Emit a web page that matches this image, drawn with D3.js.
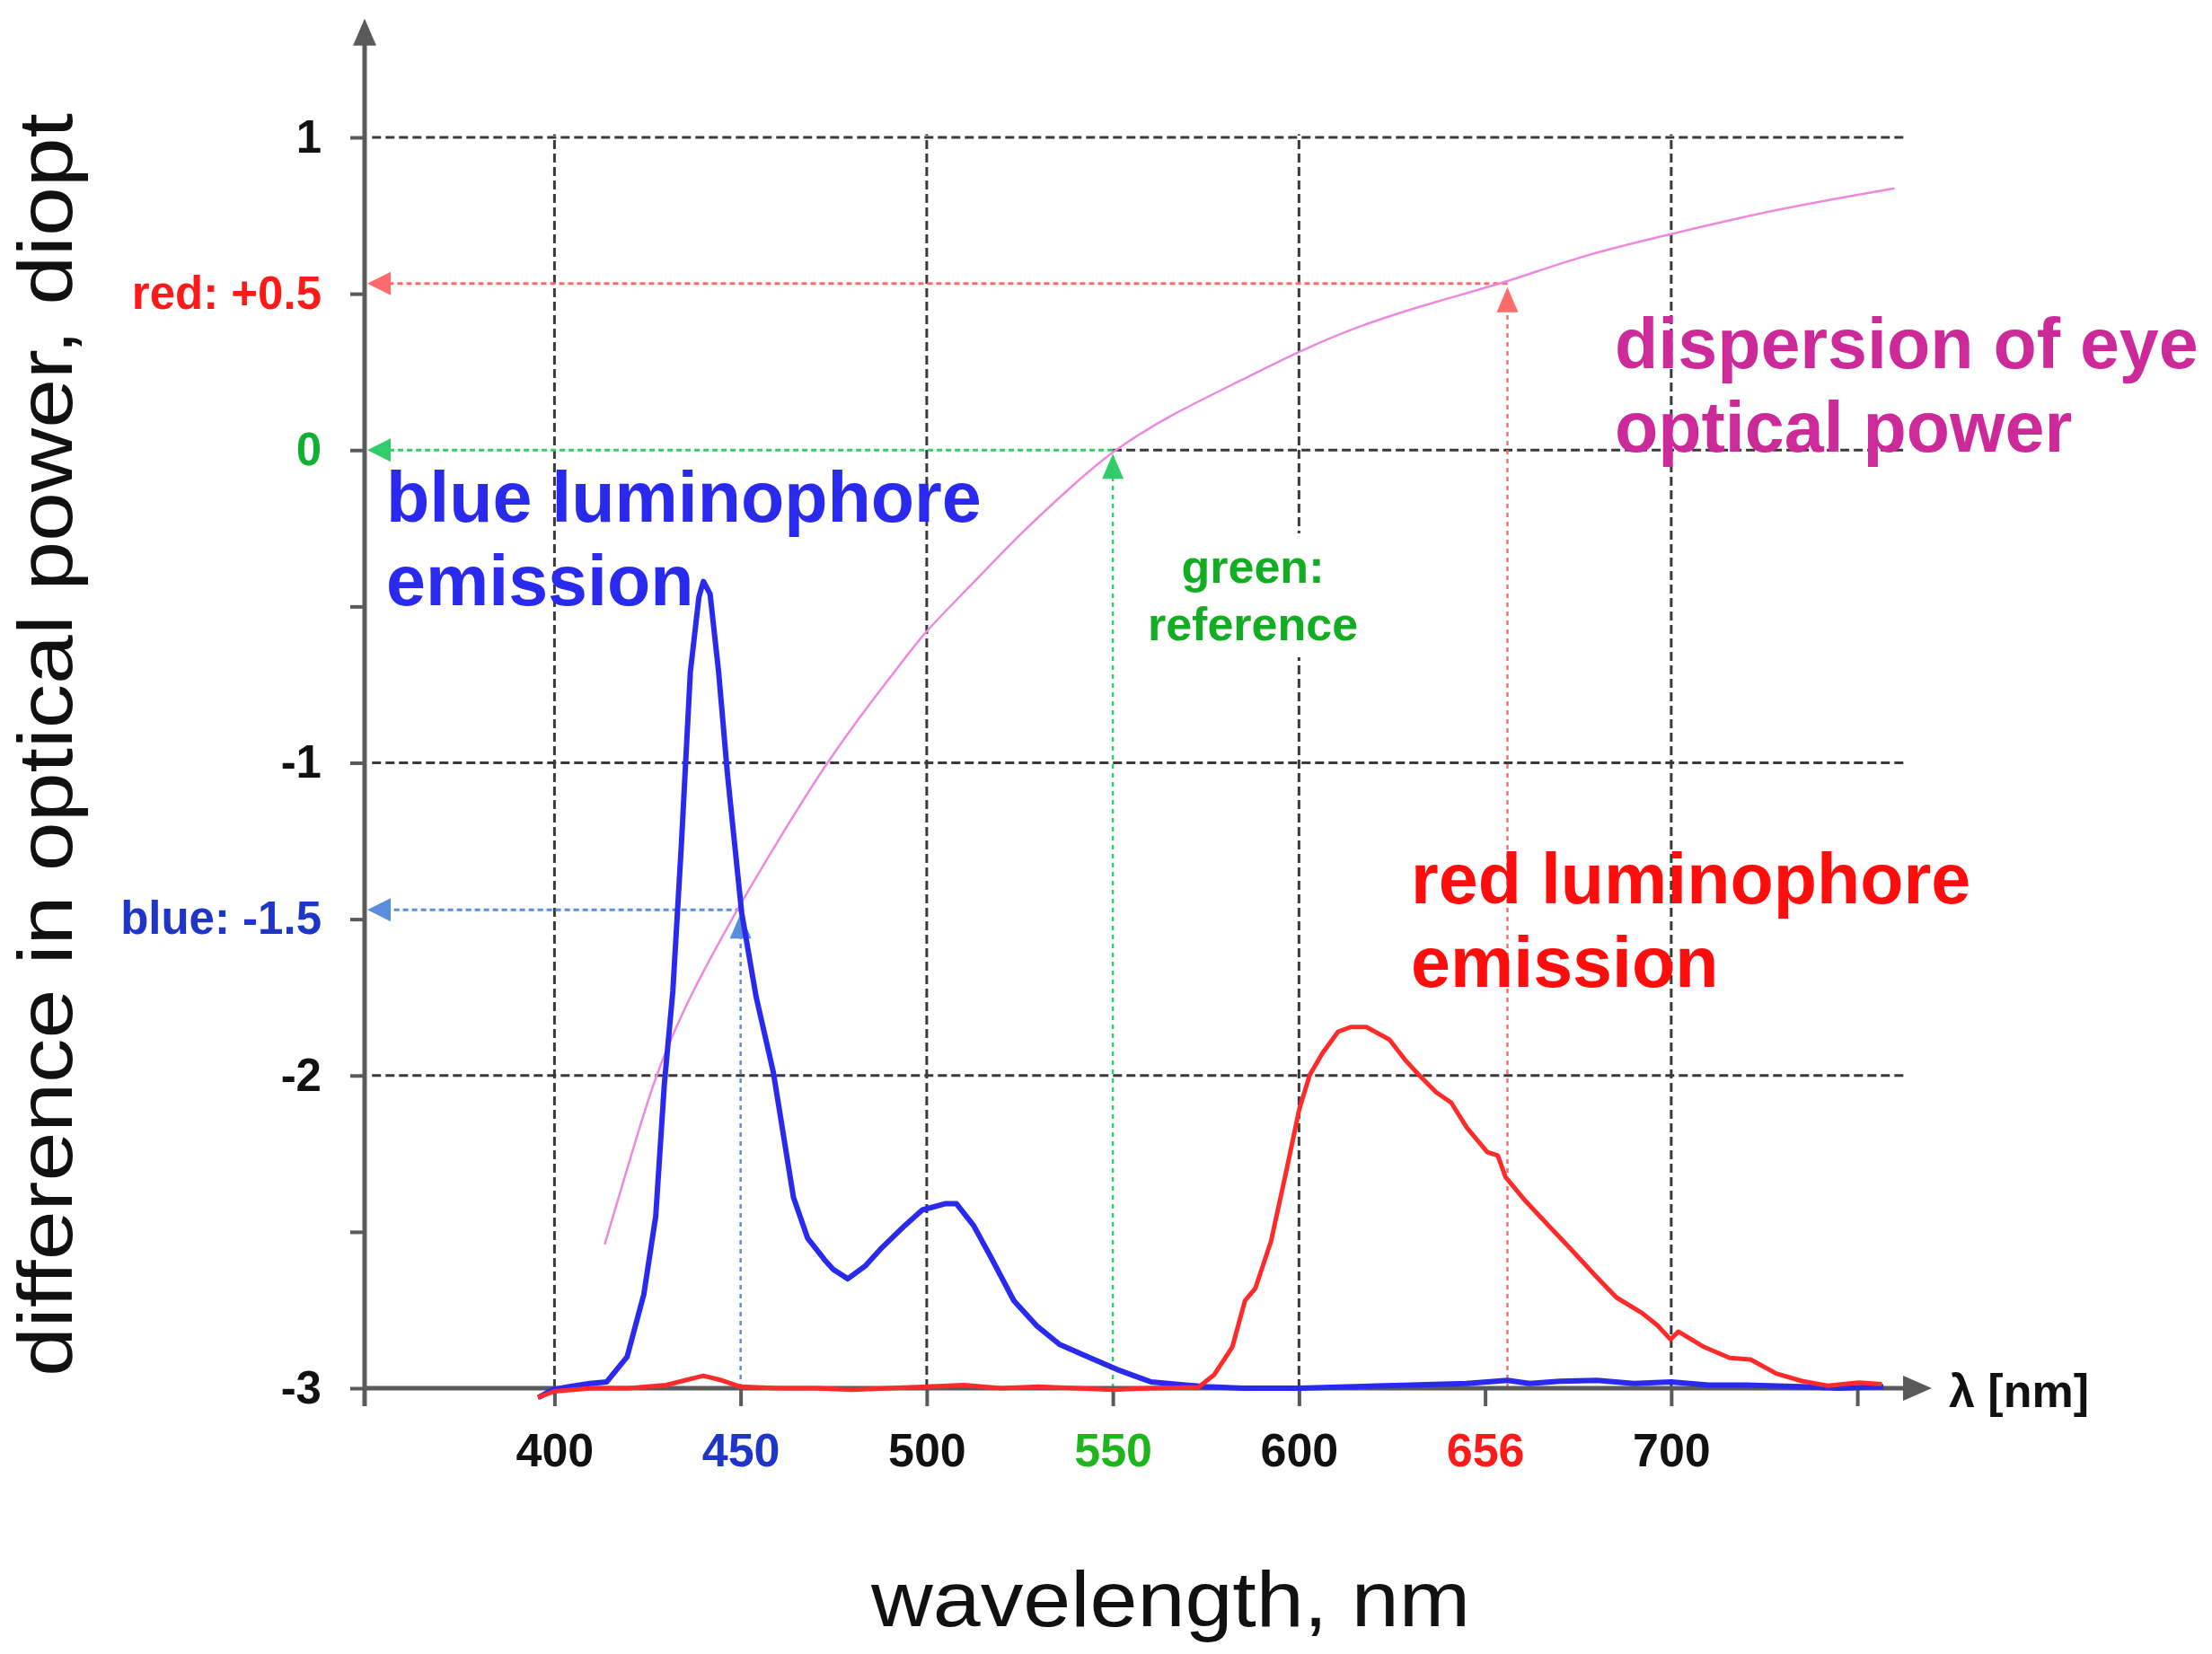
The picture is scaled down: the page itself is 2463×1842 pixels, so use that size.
<!DOCTYPE html>
<html>
<head>
<meta charset="utf-8">
<script src="https://cdn.jsdelivr.net/npm/d3@7"></script>
<style>
  body { margin: 0; background: #fff; }
</style>
</head>
<body>
<script>
// chart values
const xTicks = [400, 450, 500, 550, 600, 650, 700, 750];
const xTickLabels = ["400", "450", "500", "550", "600", "656", "700", ""];
const yTicks = [1, 0.5, 0, -0.5, -1, -1.5, -2, -2.5, -3];
const yTickLabels = ["1", "red: +0.5", "0", "", "-1", "blue: -1.5", "-2", "", "-3"];
const gridX = [400, 500, 600, 700];
const gridY = [1, 0, -1, -2];

// dispersion of eye optical power (diopt, relative to 550 nm)
const dispWl = [413.5, 420, 427, 435, 443, 450, 460, 473, 486, 492, 499, 511, 525, 539, 550, 566, 585, 600, 617, 637, 656, 676, 700, 727, 760];
const dispVal = [-2.54, -2.28, -2.0, -1.78, -1.6, -1.45, -1.25, -1.0, -0.79, -0.70, -0.587, -0.444, -0.268, -0.115, 0, 0.116, 0.226, 0.316, 0.402, 0.476, 0.537, 0.623, 0.691, 0.768, 0.837];

// blue luminophore emission (drawn in the same y units)
const blueWl = [
  395.7, 399.5, 404, 409.5, 414, 419.5, 424, 427.2, 429.5, 431.8,
  434.1, 436.5, 438.8, 440, 441.8, 444.1, 446.5, 450.3, 454.2, 458.8,
  464.2, 468, 472.6, 474.9, 478.8, 483.4, 488, 494.1, 498.8, 504.9,
  508, 512.6, 517.2, 523.4, 529.5, 535.7, 543.4, 551.1, 560.3, 569.5,
  575, 585, 600, 615, 630, 645, 656, 662, 670, 680,
  690, 700, 710, 720, 735, 745, 757];
const blueVal = [
  -3.03, -3.005, -2.995, -2.985, -2.98, -2.9, -2.7, -2.45, -2.03, -1.73,
  -1.26, -0.71, -0.47, -0.42, -0.46, -0.71, -1.04, -1.48, -1.75, -1.99,
  -2.39, -2.52, -2.59, -2.62, -2.65, -2.61, -2.55, -2.48, -2.43, -2.41,
  -2.41, -2.48, -2.58, -2.72, -2.8, -2.86, -2.9, -2.94, -2.98, -2.99,
  -2.995, -3.0, -3.0, -2.995, -2.99, -2.985, -2.975, -2.985, -2.978, -2.975,
  -2.985, -2.98, -2.99, -2.99, -2.995, -3.0, -2.995];

// red luminophore emission
const redWl = [
  395.5, 400, 410, 420, 430, 435, 440, 445, 450, 460,
  470, 480, 490, 500, 510, 520, 530, 540, 550, 560,
  573, 577.2, 582.1, 585.5, 588.3, 592.5, 596.6, 600.1, 602.9, 606.3,
  610.5, 613.9, 618.1, 624.3, 628.5, 632.6, 636.8, 640.9, 645.1, 650.6,
  653.4, 655.5, 660.3, 667.3, 672.8, 679.7, 685.3, 692.2, 696.3, 699.8,
  701.9, 708.8, 715.7, 721.3, 728.2, 735.1, 742.1, 750.3, 756.6];
const redVal = [
  -3.03, -3.01, -3.0, -3.0, -2.99, -2.975, -2.96, -2.975, -2.995, -3.0,
  -3.0, -3.005, -3.0, -2.995, -2.99, -3.0, -2.995, -3.0, -3.005, -3.0,
  -2.997, -2.957, -2.868, -2.72, -2.68, -2.53, -2.305, -2.107, -1.998, -1.929,
  -1.86, -1.845, -1.845, -1.885, -1.95, -2.003, -2.053, -2.087, -2.167, -2.245,
  -2.256, -2.325, -2.394, -2.483, -2.552, -2.641, -2.71, -2.76, -2.799, -2.844,
  -2.819, -2.868, -2.903, -2.908, -2.953, -2.977, -2.992, -2.982, -2.987];

// read-off markers: blue, green (reference), red
const markerWl = [450, 550, 656];
const markerVal = [-1.47, 0, 0.533];

const WIDTH = 2463;
const HEIGHT = 1842;
const FONT = "'Liberation Sans', Arial, Helvetica, sans-serif";

const svg = d3.select("body").append("svg")
    .attr("width", WIDTH)
    .attr("height", HEIGHT)
    .style("font-family", FONT);

svg.append("rect").attr("width", WIDTH).attr("height", HEIGHT).attr("fill", "#fff");

const x = d3.scaleLinear().domain([349, 770]).range([406, 2151]);
const y = d3.scaleLinear().domain([-3, 1]).range([1546, 153]);
const X0 = x(349);
const Y0 = y(-3);

const tickColor = {450: "#1f35c8", 550: "#1fb51f", 650: "#ff1a1a"};
const yLabelColor = {0.5: "#ff1a1a", 0: "#10b030", "-1.5": "#1f35c8"};
const markerColors = ["#5a8ddb", "#33cc6a", "#ff6a6a"];

// gridlines
const grid = svg.append("g")
    .attr("stroke", "#3a3a3a")
    .attr("stroke-width", 3)
    .attr("stroke-dasharray", "10,5")
    .attr("fill", "none");

gridY.forEach(v => {
    // the zero line only starts at the green reference point, the marker covers the rest
    let start = v === 0 ? markerWl[1] : 351;
    grid.append("line")
        .attr("x1", x(start)).attr("x2", x(763))
        .attr("y1", y(v)).attr("y2", y(v));
});
gridX.forEach(v => {
    grid.append("line")
        .attr("x1", x(v)).attr("x2", x(v))
        .attr("y1", y(-3)).attr("y2", y(1.01));
});

// markers (dotted read-off lines with arrowheads)
const markers = svg.append("g");
markerWl.forEach((wl, i) => {
    let px = x(wl), py = y(markerVal[i]);
    let c = markerColors[i];
    markers.append("line")
        .attr("x1", px).attr("x2", px)
        .attr("y1", Y0).attr("y2", py + 28)
        .attr("stroke", c).attr("stroke-width", 2.5).attr("stroke-dasharray", "5,5");
    markers.append("path")
        .attr("d", `M${px},${py + 4} L${px - 12},${py + 32} L${px + 12},${py + 32} Z`)
        .attr("fill", c);
    markers.append("line")
        .attr("x1", px).attr("x2", X0 + 26)
        .attr("y1", py).attr("y2", py)
        .attr("stroke", c).attr("stroke-width", 3).attr("stroke-dasharray", "6,4");
    markers.append("path")
        .attr("d", `M${X0 + 3},${py} L${X0 + 29},${py - 13} L${X0 + 29},${py + 13} Z`)
        .attr("fill", c);
});

// green label with white box behind (it hides the 600 gridline)
const greenLabel = svg.append("g");
const greenText = greenLabel.append("text")
    .attr("text-anchor", "middle")
    .attr("font-size", 52)
    .attr("font-weight", "bold")
    .attr("fill", "#12ad22");
greenText.append("tspan").attr("x", 1395).attr("y", 649).text("green:");
greenText.append("tspan").attr("x", 1395).attr("y", 713).text("reference");
let gb = greenText.node().getBBox();
greenLabel.insert("rect", "text")
    .attr("x", gb.x - 6).attr("y", gb.y - 8)
    .attr("width", gb.width + 12).attr("height", gb.height + 16)
    .attr("fill", "#fff");

// dispersion curve (smoothed through the read points)
const line = d3.line().x(d => x(d[0])).y(d => y(d[1]));

svg.append("path")
    .datum(d3.zip(dispWl, dispVal))
    .attr("fill", "none")
    .attr("stroke", "#ee88dd")
    .attr("stroke-width", 2.5)
    .attr("d", line.curve(d3.curveBasis));

// emission spectra
const rawLine = d3.line().x(d => x(d[0])).y(d => y(d[1]));

// axes
const axisColor = "#5a5a5a";
const xAxis = d3.axisBottom(x)
    .tickValues(xTicks)
    .tickSize(20)
    .tickPadding(30)
    .tickFormat((d, i) => xTickLabels[i]);
const gx = svg.append("g").attr("transform", `translate(0,${Y0})`).call(xAxis);
gx.select(".domain").remove();
gx.selectAll(".tick line").attr("stroke", axisColor).attr("stroke-width", 4);
gx.selectAll(".tick text")
    .attr("font-family", FONT)
    .attr("font-size", 52)
    .attr("font-weight", "bold")
    .attr("fill", d => tickColor[d] || "#111");

const yAxis = d3.axisLeft(y)
    .tickValues(yTicks)
    .tickSize(16)
    .tickPadding(32)
    .tickFormat((d, i) => yTickLabels[i]);
const gy = svg.append("g").attr("transform", `translate(${X0},0)`).call(yAxis);
gy.select(".domain").remove();
gy.selectAll(".tick line").attr("stroke", axisColor).attr("stroke-width", 4);
gy.selectAll(".tick text")
    .attr("font-family", FONT)
    .attr("font-size", 51)
    .attr("font-weight", "bold")
    .attr("fill", d => yLabelColor[d] || "#111");

// axis lines with arrows
const xEnd = x(770);
svg.append("line")
    .attr("x1", X0).attr("x2", xEnd - 28)
    .attr("y1", Y0).attr("y2", Y0)
    .attr("stroke", axisColor).attr("stroke-width", 5);
svg.append("path")
    .attr("d", `M${xEnd},${Y0} L${xEnd - 32},${Y0 - 14} L${xEnd - 32},${Y0 + 14} Z`)
    .attr("fill", axisColor);

const yTop = y(1.38);
svg.append("line")
    .attr("x1", X0).attr("x2", X0)
    .attr("y1", Y0 + 20).attr("y2", yTop + 26)
    .attr("stroke", axisColor).attr("stroke-width", 5);
svg.append("path")
    .attr("d", `M${X0},${yTop} L${X0 - 13},${yTop + 30} L${X0 + 13},${yTop + 30} Z`)
    .attr("fill", axisColor);

svg.append("path")
    .datum(d3.zip(blueWl, blueVal))
    .attr("fill", "none")
    .attr("stroke", "#2a2aee")
    .attr("stroke-width", 6)
    .attr("stroke-linejoin", "round")
    .attr("d", rawLine);

svg.append("path")
    .datum(d3.zip(redWl, redVal))
    .attr("fill", "none")
    .attr("stroke", "#ff2a2a")
    .attr("stroke-width", 5)
    .attr("stroke-linejoin", "round")
    .attr("d", rawLine);

// curve labels
addLabel = (lines, px, py, color) => {
    let t = svg.append("text")
        .attr("font-size", 79)
        .attr("font-weight", "bold")
        .attr("fill", color);
    lines.forEach((s, i) => t.append("tspan").attr("x", px).attr("y", py + i * 93).text(s));
}
addLabel(["blue luminophore", "emission"], 430, 581, "#2a2aee");
addLabel(["dispersion of eye", "optical power"], 1798, 410, "#cc2a99");
addLabel(["red luminophore", "emission"], 1571, 1006, "#ff0d0d");

// λ [nm]
svg.append("text")
    .attr("x", 2170).attr("y", 1567)
    .attr("font-size", 52)
    .attr("font-weight", "bold")
    .attr("fill", "#111")
    .text("λ [nm]");

// axis titles (wide type in the original, so stretched to the measured length)
svg.append("text")
    .attr("x", 970).attr("y", 1811)
    .attr("font-size", 88)
    .attr("fill", "#111")
    .attr("textLength", 667)
    .attr("lengthAdjust", "spacingAndGlyphs")
    .text("wavelength, nm");

svg.append("text")
    .attr("transform", "translate(80,1533) rotate(-90)")
    .attr("font-size", 86)
    .attr("fill", "#111")
    .attr("textLength", 1407)
    .attr("lengthAdjust", "spacingAndGlyphs")
    .text("difference in optical power, diopt");
</script>
</body>
</html>
